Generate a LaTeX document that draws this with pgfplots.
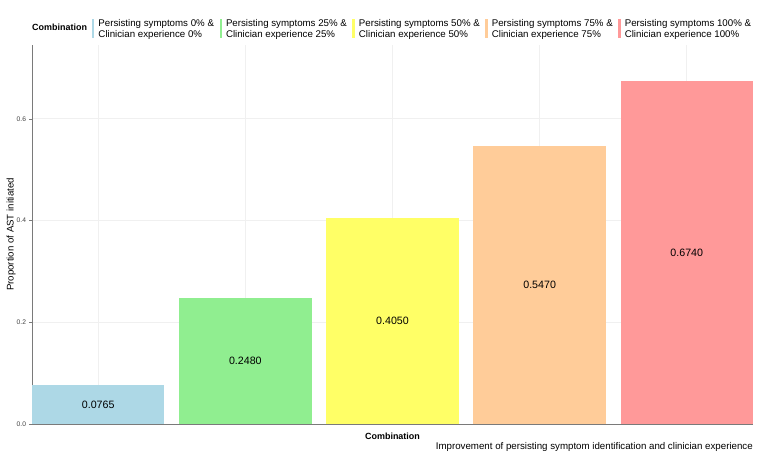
\documentclass[border=0pt]{standalone}
\usepackage{fontspec}
\setmainfont{Liberation Sans}
\usepackage{pgfplots}
\pgfplotsset{compat=1.18}

\definecolor{c0}{HTML}{ADD8E6}
\definecolor{c25}{HTML}{90EE90}
\definecolor{c50}{HTML}{FFFF66}
\definecolor{c75}{HTML}{FFCC99}
\definecolor{c100}{HTML}{FF9999}
\definecolor{axisgray}{HTML}{7A7A7A}
\definecolor{gridgray}{HTML}{F0F0F0}

\begin{document}
\begin{tikzpicture}
% page frame
\path (0bp,0bp) rectangle (762bp,459bp);
\begin{axis}[
  at={(32bp,35bp)}, anchor=south west,
  scale only axis, width=721bp, height=379bp,
  xmin=0.55, xmax=5.45, ymin=0, ymax=0.745,
  ybar, bar width=0.9,
  axis x line*=bottom, axis y line*=left,
  axis line style={draw=axisgray, line width=0.9bp, -},
  xtick={1,2,3,4,5}, xticklabels={},
  x tick style={draw=none},
  ytick={0,0.2,0.4,0.6},
  y tick style={draw=axisgray, line width=0.5bp},
  major tick length=2.5bp, tick align=outside,
  yticklabel={\pgfmathprintnumber[fixed,fixed zerofill,precision=1]{\tick}},
  /pgf/number format/assume math mode=true,
  tick label style={font=\fontsize{6.7}{7}\selectfont, text=black!75},
  xmajorgrids, ymajorgrids,
  major grid style={draw=gridgray, line width=0.6bp},
  ylabel={Proportion of AST initiated},
  ylabel style={at={(axis description cs:-0.0291,0.5)}, anchor=center,
    font=\fontsize{9.7}{11}\selectfont},
  xlabel={Combination},
  xlabel style={at={(axis description cs:0.5,-0.0317)}, anchor=center,
    font=\bfseries\fontsize{9}{10}\selectfont},
  nodes near coords={\pgfmathprintnumber[fixed,fixed zerofill,precision=4]{\pgfplotspointmeta}},
  visualization depends on={rawy \as \rawy},
  every node near coord/.append style={anchor=center,
    shift={(axis direction cs:0,-\rawy/2)},
    font=\fontsize{10.7}{12}\selectfont, text=black},
  legend columns=5,
  legend cell align=left,
  legend style={at={(axis description cs:0.0832,1.0422)}, anchor=west,
    draw=none, fill=none, inner sep=0pt, outer sep=0pt,
    nodes={inner ysep=0pt, inner xsep=0pt, align=left,
      font=\fontsize{9.75}{11}\selectfont},
    /tikz/every odd column/.append style={column sep=4bp},
    /tikz/every even column/.append style={column sep=5.5bp}},
  legend image code/.code={\fill[#1] (0bp,-9.5bp) rectangle (2.5bp,9.5bp);},
]
\addplot[fill=c0, draw=none, bar shift=0pt] coordinates {(1,0.0765)};
\addlegendentry{Persisting symptoms 0\% \&\\Clinician experience 0\%}
\addplot[fill=c25, draw=none, bar shift=0pt] coordinates {(2,0.2480)};
\addlegendentry{Persisting symptoms 25\% \&\\Clinician experience 25\%}
\addplot[fill=c50, draw=none, bar shift=0pt] coordinates {(3,0.4050)};
\addlegendentry{Persisting symptoms 50\% \&\\Clinician experience 50\%}
\addplot[fill=c75, draw=none, bar shift=0pt] coordinates {(4,0.5470)};
\addlegendentry{Persisting symptoms 75\% \&\\Clinician experience 75\%}
\addplot[fill=c100, draw=none, bar shift=0pt] coordinates {(5,0.6740)};
\addlegendentry{Persisting symptoms 100\% \&\\Clinician experience 100\%}
\end{axis}
% legend title and caption
\node[anchor=west, inner sep=0pt, font=\bfseries\fontsize{9}{10}\selectfont]
  at (32bp,432bp) {Combination};
\node[anchor=east, inner sep=0pt, font=\fontsize{9.75}{11}\selectfont]
  at (753bp,12bp) {Improvement of persisting symptom identification and clinician experience};
\end{tikzpicture}
\end{document}
